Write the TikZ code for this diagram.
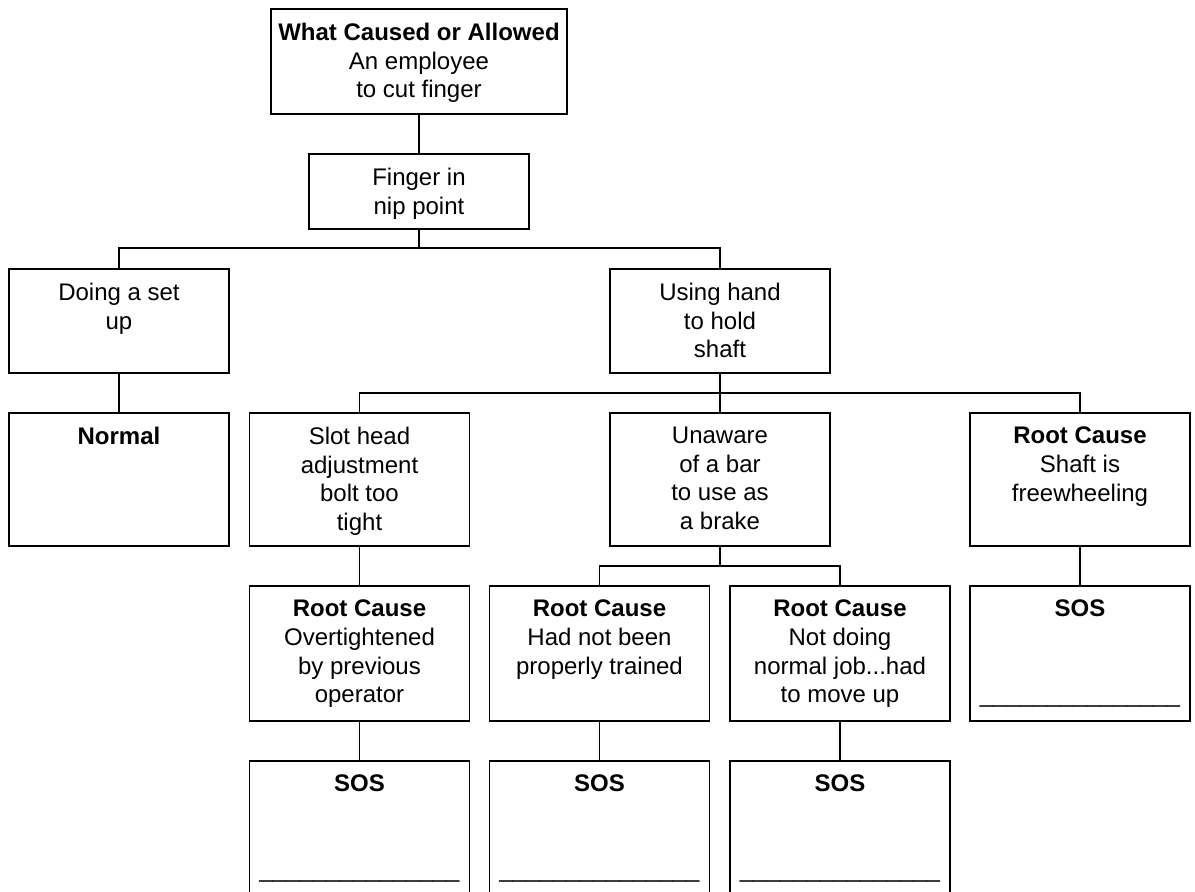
\documentclass[tikz,border=0pt]{standalone}
\usepackage{fontspec}
\setmainfont{Liberation Sans}
\begin{document}
\begin{tikzpicture}[x=1pt,y=-1pt,
  box/.style={draw=black, line width=1.6pt, rectangle, inner sep=0pt, minimum width=220, fill=white},
  txt/.style={font=\fontsize{24}{28.7}\selectfont, align=center, inner sep=0pt, anchor=north},
  conn/.style={draw=black, line width=1.6pt}]
\path[use as bounding box, clip] (0,0) rectangle (1195,892);
\fill[white] (0,0) rectangle (1195,892);
% boxes
\node[box, minimum width=296, minimum height=105] (top) at (419,61.5) {};
\node[box, minimum height=75] (finger) at (419,191.5) {};
\node[box, minimum height=104] (doing) at (119,321) {};
\node[box, minimum height=104] (using) at (720,321) {};
\node[box, minimum height=133] (normal) at (119,479.5) {};
\node[box, minimum height=133] (slot) at (359.5,479.5) {};
\node[box, minimum height=133] (unaware) at (720,479.5) {};
\node[box, minimum height=133] (shaft) at (1080,479.5) {};
\node[box, minimum height=135] (over) at (359.5,653.5) {};
\node[box, minimum height=135] (hadnot) at (599.5,653.5) {};
\node[box, minimum height=135] (notdoing) at (840,653.5) {};
\node[box, minimum height=135] (sosr) at (1080,653.5) {};
\node[box, minimum height=150] (sosa) at (359.5,836) {};
\node[box, minimum height=150] (sosb) at (599.5,836) {};
\node[box, minimum height=150] (sosc) at (840,836) {};
% texts
\node[txt] (ttop) at (419,22.8) {\textbf{What Caused or Allowed}\\An employee\\to cut finger};
\node[txt] (tfinger) at (419,167.8) {Finger in\\nip point};
\node[txt] (tdoing) at (119,282.8) {Doing a set\\up};
\node[txt] (tusing) at (720,282.8) {Using hand\\to hold\\shaft};
\node[txt] (tnormal) at (119,426.8) {\textbf{Normal}};
\node[txt] (tslot) at (359.5,426.8) {Slot head\\adjustment\\bolt too\\tight};
\node[txt] (tunaware) at (720,426.8) {Unaware\\of a bar\\to use as\\a brake};
\node[txt] (tshaft) at (1080,426.8) {\textbf{Root Cause}\\Shaft is\\freewheeling};
\node[txt] (tover) at (359.5,599.8) {\textbf{Root Cause}\\Overtightened\\by previous\\operator};
\node[txt] (thadnot) at (599.5,599.8) {\textbf{Root Cause}\\Had not been\\properly trained};
\node[txt] (tnotdoing) at (840,599.8) {\textbf{Root Cause}\\Not doing\\normal job...had\\to move up};
\node[txt] (tsosr) at (1080,599.8) {\textbf{SOS}\\\mbox{}\\\mbox{}\\\_\_\_\_\_\_\_\_\_\_\_\_\_\_\_};
\node[txt] (tsosa) at (359.5,774.8) {\textbf{SOS}\\\mbox{}\\\mbox{}\\\_\_\_\_\_\_\_\_\_\_\_\_\_\_\_};
\node[txt] (tsosb) at (599.5,774.8) {\textbf{SOS}\\\mbox{}\\\mbox{}\\\_\_\_\_\_\_\_\_\_\_\_\_\_\_\_};
\node[txt] (tsosc) at (840,774.8) {\textbf{SOS}\\\mbox{}\\\mbox{}\\\_\_\_\_\_\_\_\_\_\_\_\_\_\_\_};
% junctions
\coordinate (j1) at (419,248);
\coordinate (j2) at (720,393);
\coordinate (j3) at (720,566);
% connectors
\draw[conn] (top.south) -- (finger.north);
\draw[conn] (finger.south) -- (j1);
\draw[conn] (doing.north) |- (j1) -| (using.north);
\draw[conn] (doing.south) -- (normal.north);
\draw[conn] (using.south) -- (j2);
\draw[conn] (slot.north) |- (j2) -| (shaft.north);
\draw[conn] (j2) -- (unaware.north);
\draw[conn] (unaware.south) -- (j3);
\draw[conn] (hadnot.north) |- (j3) -| (notdoing.north);
\draw[conn] (slot.south) -- (over.north);
\draw[conn] (over.south) -- (sosa.north);
\draw[conn] (hadnot.south) -- (sosb.north);
\draw[conn] (notdoing.south) -- (sosc.north);
\draw[conn] (shaft.south) -- (sosr.north);
\end{tikzpicture}
\end{document}
